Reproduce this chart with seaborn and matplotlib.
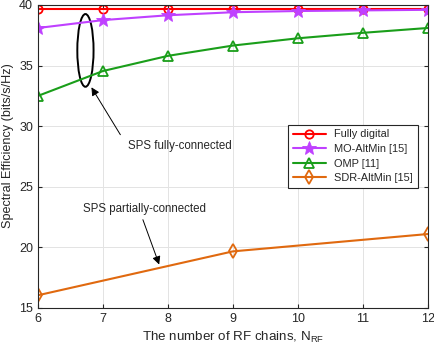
# -*- coding: utf-8 -*-
import pandas as pd
import numpy as np
import matplotlib
matplotlib.use("Agg")
import matplotlib.pyplot as plt
from matplotlib.patches import Ellipse
import seaborn as sns

# data
n_rf = [6, 7, 8, 9, 10, 11, 12]
fully_digital = [39.65, 39.65, 39.65, 39.65, 39.65, 39.65, 39.65]
mo_altmin = [38.1, 38.75, 39.15, 39.4, 39.5, 39.55, 39.6]
omp = [32.5, 34.55, 35.8, 36.65, 37.25, 37.7, 38.1]
n_rf_sdr = [6, 9, 12]
sdr_altmin = [16.05, 19.67, 21.1]

labels = ["Fully digital", "MO-AltMin [15]", "OMP [11]", "SDR-AltMin [15]"]
colors = ["#FF0000", "#BF40FF", "#1A9E1A", "#E0690F"]

sns.set_style("whitegrid")
plt.rcParams['font.family'] = ['Liberation Sans', 'DejaVu Sans']
plt.rcParams['mathtext.fontset'] = 'custom'
plt.rcParams['mathtext.rm'] = 'Liberation Sans'

frames = []
for lab, xs, ys in [(labels[0], n_rf, fully_digital), (labels[1], n_rf, mo_altmin),
                    (labels[2], n_rf, omp), (labels[3], n_rf_sdr, sdr_altmin)]:
    frames.append(pd.DataFrame({"N": xs, "SE": ys, "scheme": lab}))
df = pd.concat(frames, ignore_index=True)

fig = plt.figure(figsize=(4.34, 3.54), dpi=100)
ax = fig.add_axes([0.0876, 0.13, 0.898, 0.856])

marker_kw = {
    labels[0]: dict(marker="o", markersize=6, markerfacecolor="none", markeredgewidth=1.3),
    labels[1]: dict(marker="*", markersize=10, markeredgewidth=0.6),
    labels[2]: dict(marker="^", markersize=6.5, markerfacecolor="none", markeredgewidth=1.3),
    labels[3]: dict(marker="d", markersize=7, markerfacecolor="none", markeredgewidth=1.3),
}
for lab, col in zip(labels, colors):
    sub = df[df.scheme == lab]
    sns.lineplot(data=sub, x="N", y="SE", color=col, linewidth=1.5, label=lab,
                 ax=ax, markeredgecolor=col, **marker_kw[lab])

ax.set_xlim(6, 12)
ax.set_ylim(15, 40)
ax.set_xticks(range(6, 13))
ax.set_yticks([15, 20, 25, 30, 35, 40])
ax.tick_params(direction="in", labelsize=9, colors="#262626", length=3,
               top=True, right=True, bottom=True, left=True)
ax.grid(True, color="#E3E3E3", linewidth=0.7)
for s in ax.spines.values():
    s.set_color("#262626")
    s.set_linewidth(0.8)
ax.set_xlabel("The number of RF chains, N$_{\\mathrm{RF}}$", fontsize=9.6, color="#262626")
ax.set_ylabel("Spectral Efficiency (bits/s/Hz)", fontsize=9.1, color="#262626")
ax.yaxis.set_label_coords(-0.062, 0.535)

leg = ax.legend(loc="upper right", bbox_to_anchor=(0.974, 0.604), borderaxespad=0,
                fontsize=7.9, frameon=True, fancybox=False, edgecolor="#262626",
                framealpha=1, borderpad=0.4, labelspacing=0.42, handlelength=3)
leg.get_frame().set_linewidth(0.8)

# annotations
ax.add_patch(Ellipse((6.73, 36.25), 0.25, 6.0, fill=False, color="black", linewidth=1.4))
ax.annotate("", xy=(6.8, 33.4), xytext=(7.29, 29.1),
            arrowprops=dict(arrowstyle="-|>", color="black", lw=0.7, mutation_scale=12))
ax.text(7.38, 28.4, "SPS fully-connected", fontsize=8.3, va="center", ha="left")
ax.text(6.69, 23.2, "SPS partially-connected", fontsize=8.3, va="center", ha="left")
ax.annotate("", xy=(7.88, 18.37), xytext=(7.6, 22.5),
            arrowprops=dict(arrowstyle="-|>", color="black", lw=0.7, mutation_scale=12))

fig.savefig("out.png", dpi=100)
